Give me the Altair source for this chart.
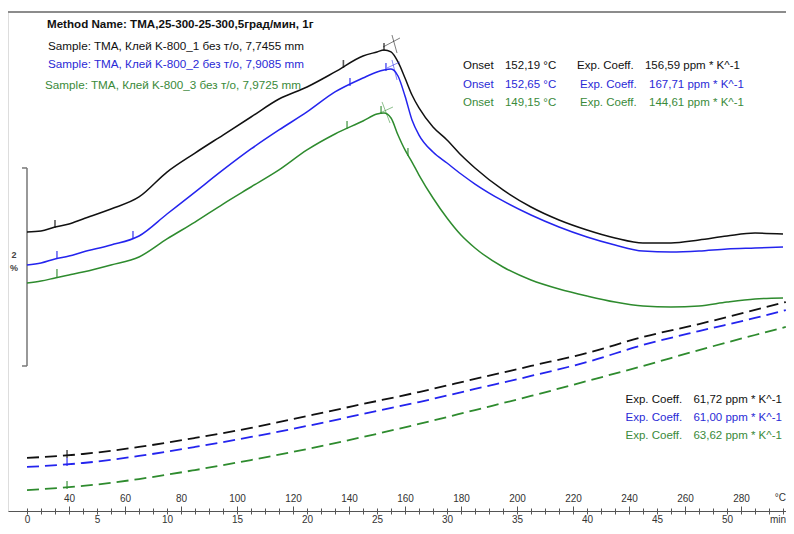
import altair as alt
import pandas as pd

# ---------------- data ----------------
series = ["K-800_1", "K-800_2", "K-800_3"]
line_colors = ["#111111", "#2424ee", "#2e8b2e"]
text_colors = ["#111111", "#2a2ad6", "#3a8a3a"]

# first heating (solid), time in min, dL/L0 in % (display offset)
t_solid = [0, 1, 2, 3, 4, 6, 8, 10, 12, 14, 16, 18, 20, 22, 24, 25, 25.5, 26, 26.5, 27,
           27.5, 28, 29, 30, 31, 32, 34, 36, 38, 40, 42, 44, 46, 48, 50, 52, 54]
black_solid = [2.838, 2.848, 2.889, 2.919, 2.970, 3.071, 3.192, 3.444, 3.636, 3.818, 4.000,
               4.182, 4.303, 4.455, 4.616, 4.657, 4.677, 4.657, 4.556, 4.394, 4.222, 4.091,
               3.899, 3.768, 3.616, 3.485, 3.263, 3.091, 2.960, 2.859, 2.778, 2.727, 2.727,
               2.758, 2.798, 2.828, 2.818]
blue_solid = [2.505, 2.525, 2.566, 2.596, 2.636, 2.707, 2.798, 3.020, 3.242, 3.465, 3.677,
              3.869, 4.051, 4.253, 4.394, 4.455, 4.475, 4.485, 4.414, 4.212, 3.970, 3.818,
              3.646, 3.535, 3.424, 3.323, 3.152, 3.010, 2.889, 2.788, 2.707, 2.646, 2.636,
              2.646, 2.667, 2.677, 2.687]
green_solid = [2.323, 2.343, 2.374, 2.404, 2.434, 2.505, 2.586, 2.768, 2.939, 3.121, 3.293,
               3.465, 3.667, 3.828, 3.960, 4.030, 4.040, 3.990, 3.818, 3.667, 3.545, 3.414,
               3.182, 2.980, 2.808, 2.677, 2.485, 2.354, 2.263, 2.192, 2.131, 2.091, 2.081,
               2.091, 2.131, 2.162, 2.172]

# second heating (dashed)
t_dash = [0, 4, 8, 12, 16, 20, 24, 28, 32, 36, 40, 44, 48, 52, 54.2]
black_dash = [0.556, 0.596, 0.667, 0.758, 0.859, 0.980, 1.101, 1.222, 1.354, 1.485, 1.616,
              1.778, 1.909, 2.051, 2.131]
blue_dash = [0.465, 0.505, 0.576, 0.667, 0.768, 0.879, 1.000, 1.121, 1.253, 1.384, 1.525,
             1.697, 1.838, 1.970, 2.050]
green_dash = [0.232, 0.273, 0.343, 0.434, 0.535, 0.646, 0.768, 0.899, 1.040, 1.182, 1.333,
              1.485, 1.646, 1.798, 1.879]

# evaluation flags on curves
flag_series = ["K-800_1", "K-800_1", "K-800_1", "K-800_2", "K-800_2", "K-800_2", "K-800_2",
               "K-800_3", "K-800_3", "K-800_3", "K-800_3",
               "K-800_1", "K-800_2", "K-800_3"]
flag_t = [2.0, 22.6, 25.5, 2.14, 7.57, 23.07, 25.64, 2.14, 22.86, 25.29, 27.21, 2.86, 2.86, 2.86]
flag_v = [2.889, 4.505, 4.677, 2.576, 2.778, 4.323, 4.475, 2.394, 3.889, 4.040, 3.616,
          0.566, 0.485, 0.253]

# onset tangent crosses (segments)
cross_series = ["K-800_1", "K-800_1", "K-800_2", "K-800_2", "K-800_3", "K-800_3"]
cross_t1 = [25.43, 26.07, 25.71, 26.07, 25.21, 25.36]
cross_t2 = [26.64, 26.43, 26.64, 26.43, 26.14, 25.93]
cross_v1 = [4.707, 4.828, 4.495, 4.576, 4.040, 4.152]
cross_v2 = [4.798, 4.646, 4.556, 4.374, 4.101, 3.939]

sample_labels = ["Sample: TMA, Клей K-800_1 без т/о, 7,7455 mm",
                 "Sample: TMA, Клей K-800_2 без т/о, 7,9085 mm",
                 "Sample: TMA, Клей K-800_3 без т/о, 7,9725 mm"]
onset_vals = ["152,19 °C", "152,65 °C", "149,15 °C"]
coeff1_vals = ["156,59 ppm * K^-1", "167,71 ppm * K^-1", "144,61 ppm * K^-1"]
coeff2_vals = ["61,72 ppm * K^-1", "61,00 ppm * K^-1", "63,62 ppm * K^-1"]
method_name = "Method Name: TMA,25-300-25-300,5град/мин, 1г"

# axis ranges
XMIN, XMAX = -1.357, 54.214          # min
YMIN, YMAX = 0.0202, 5.0606          # %
TMIN, TMAX = 25 + 5 * XMIN, 25 + 5 * XMAX   # °C (5 K/min from 25 °C)
W, H = 778, 499
FONT = "Liberation Sans"

# ---------------- tables ----------------
solid_df = pd.concat([
    pd.DataFrame({"t": t_solid, "v": vals, "s": s})
    for s, vals in zip(series, [black_solid, blue_solid, green_solid])
])
dash_df = pd.concat([
    pd.DataFrame({"t": t_dash, "v": vals, "s": s})
    for s, vals in zip(series, [black_dash, blue_dash, green_dash])
])
flag_df = pd.DataFrame({"t": flag_t, "v": flag_v, "s": flag_series})
cross_df = pd.DataFrame({"t": cross_t1, "t2": cross_t2, "v": cross_v1, "v2": cross_v2,
                         "s": cross_series})

color_scale = alt.Scale(domain=series, range=line_colors)


def X(field="t", axis=None):
    return alt.X(f"{field}:Q", scale=alt.Scale(domain=[XMIN, XMAX], nice=False, zero=False),
                 axis=axis)


def Y(field="v", axis=None):
    return alt.Y(f"{field}:Q", scale=alt.Scale(domain=[YMIN, YMAX], nice=False, zero=False),
                 axis=axis)


time_axis = alt.Axis(
    orient="bottom", values=list(range(0, 55)),
    labelExpr="datum.value % 5 == 0 ? datum.label : ''",
    tickSize=3,
    tickColor="#555555", domainColor="#555555", labelColor="#333333",
    labelFontSize=10, labelPadding=0, labelOverlap=False, labelFlush=False,
    grid=False, title=None, labelFont=FONT)

left_axis = alt.Axis(orient="left", labels=False, ticks=False, grid=False, title=None,
                     domainColor="#8c8c8c", domainWidth=2)

solid = alt.Chart(solid_df).mark_line(strokeWidth=1.5, interpolate="monotone").encode(
    x=X(axis=time_axis), y=Y(axis=left_axis),
    color=alt.Color("s:N", scale=color_scale, legend=None), detail="s:N")

dashed = alt.Chart(dash_df).mark_line(strokeWidth=1.8, strokeDash=[12, 6],
                                      interpolate="monotone").encode(
    x=X(), y=Y(), color=alt.Color("s:N", scale=color_scale, legend=None), detail="s:N")

flags = alt.Chart(flag_df).mark_tick(orient="vertical", size=8, thickness=1.6,
                                     yOffset=-3).encode(
    x=X(), y=Y(), color=alt.Color("s:N", scale=color_scale, legend=None))

crosses = alt.Chart(cross_df).mark_rule(strokeWidth=1, opacity=0.55).encode(
    x=X(), x2="t2:Q", y=Y(), y2="v2:Q",
    color=alt.Color("s:N", scale=color_scale, legend=None))

# frame top line
frame_df = pd.DataFrame({"t": [XMIN], "t2": [XMAX], "v": [YMAX], "v2": [YMAX]})
frame = alt.Chart(frame_df).mark_rule(color="#8c8c8c", strokeWidth=2).encode(
    x=X(), x2="t2:Q", y=Y(), y2="v2:Q")

# 2 % scale bar
bar_lo, bar_hi = 1.485, 3.485
bar_df = pd.DataFrame({"t": [0, -0.357, -0.357], "t2": [0, 0, 0],
                       "v": [bar_lo, bar_hi, bar_lo], "v2": [bar_hi, bar_hi, bar_lo]})
scale_bar = alt.Chart(bar_df).mark_rule(color="#777777", strokeWidth=1.5).encode(
    x=X(), x2="t2:Q", y=Y(), y2="v2:Q")
bar_text_df = pd.DataFrame({"t": [-0.93, -0.93], "v": [2.606, 2.475], "txt": ["2", "%"]})
bar_text = alt.Chart(bar_text_df).mark_text(font=FONT, fontSize=9, fontWeight="bold",
                                            color="#444444", align="center",
                                            baseline="middle").encode(
    x=X(), y=Y(), text="txt:N")

# temperature axis (drawn on the same line as the time axis, labels above)
temp_df = pd.DataFrame({"T": [TMIN, TMAX], "v": [1, 1]})
temp_axis = alt.Axis(
    orient="top", offset=-H, values=list(range(25, 300, 5)),
    labelExpr="datum.value % 20 == 0 ? datum.label : ''",
    tickSize={"condition": {"test": "datum.value % 20 == 0", "value": 5}, "value": 3},
    tickColor="#555555", domain=False, labelColor="#333333",
    labelFontSize=10, labelPadding=3, labelOverlap=False, labelFlush=False,
    grid=False, title=None, labelFont=FONT)
temp_layer = alt.Chart(temp_df).mark_point(opacity=0).encode(
    x=alt.X("T:Q", scale=alt.Scale(domain=[TMIN, TMAX], nice=False, zero=False),
            axis=temp_axis),
    y=Y())

unit_df = pd.DataFrame({"t": [XMAX, XMAX], "v": [0.15, -0.075], "txt": ["°C", "min"]})
units = alt.Chart(unit_df).mark_text(font=FONT, fontSize=10, color="#333333", align="right",
                                     baseline="middle").encode(x=X(), y=Y(), text="txt:N")

# annotations
ann_rows = []
sample_pos = [(1.5, 4.717), (1.5, 4.535), (1.29, 4.323)]
onset_y = [4.515, 4.323, 4.141]
exp_x = [39.29, 39.5, 39.5]
coeff_x = [44.14, 44.43, 44.43]
bottom_y = [1.141, 0.960, 0.778]
for i in range(3):
    c = text_colors[i]
    ann_rows.append({"t": sample_pos[i][0], "v": sample_pos[i][1], "txt": sample_labels[i], "c": c,
                     "fs": 11.7})
    ann_rows.append({"t": 31.14, "v": onset_y[i], "txt": "Onset", "c": c, "fs": 11.5})
    ann_rows.append({"t": 34.14, "v": onset_y[i], "txt": onset_vals[i], "c": c, "fs": 11.5})
    ann_rows.append({"t": exp_x[i], "v": onset_y[i], "txt": "Exp. Coeff.", "c": c, "fs": 11.5})
    ann_rows.append({"t": coeff_x[i], "v": onset_y[i], "txt": coeff1_vals[i], "c": c, "fs": 11.5})
    ann_rows.append({"t": 42.75, "v": bottom_y[i], "txt": "Exp. Coeff.", "c": c, "fs": 11.5})
    ann_rows.append({"t": 47.6, "v": bottom_y[i], "txt": coeff2_vals[i], "c": c, "fs": 11.5})
ann_df = pd.DataFrame(ann_rows)
annotations = alt.Chart(ann_df).mark_text(font=FONT, align="left",
                                          baseline="middle").encode(
    x=X(), y=Y(), text="txt:N", color=alt.Color("c:N", scale=None),
    size=alt.Size("fs:Q", scale=None, legend=None))

title_df = pd.DataFrame({"t": [1.43], "v": [4.929], "txt": [method_name]})
title_text = alt.Chart(title_df).mark_text(font=FONT, fontSize=11.6, fontWeight="bold",
                                           color="#111111", align="left",
                                           baseline="middle").encode(
    x=X(), y=Y(), text="txt:N")

chart = alt.layer(
    frame, scale_bar, bar_text, dashed, solid, crosses, flags, annotations, title_text,
    units, temp_layer
).resolve_scale(x="independent").properties(
    width=W, height=H,
    autosize=alt.AutoSizeParams(type="none"),
    padding={"left": 0, "top": 4, "right": 0, "bottom": 15},
).configure_view(stroke=None).configure(background="white")

chart.save("out.html", embed_options={"renderer": "svg", "actions": False})
